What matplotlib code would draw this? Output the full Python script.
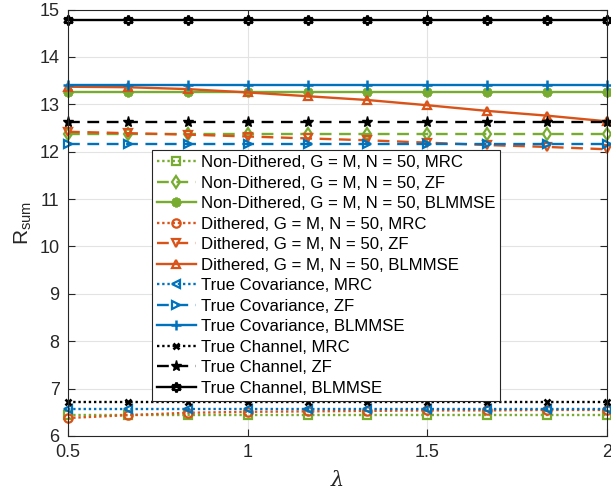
import numpy as np
import matplotlib
matplotlib.use("Agg")
import matplotlib.pyplot as plt

plt.rcParams['font.family'] = ['Liberation Sans', 'DejaVu Sans']
plt.rcParams['mathtext.fontset'] = 'custom'
plt.rcParams['mathtext.rm'] = 'Liberation Sans'
plt.rcParams['mathtext.it'] = 'Liberation Sans:italic'

lam = [0.5, 0.6667, 0.8333, 1.0, 1.1667, 1.3333, 1.5, 1.6667, 1.8333, 2.0]

nd_mrc = [6.45] * 10
nd_zf = [12.38] * 10
nd_blmmse = [13.25] * 10
d_mrc = [6.38, 6.44, 6.49, 6.51, 6.52, 6.53, 6.54, 6.54, 6.55, 6.55]
d_zf = [12.42, 12.39, 12.36, 12.32, 12.28, 12.24, 12.19, 12.14, 12.10, 12.05]
d_blmmse = [13.37, 13.36, 13.32, 13.25, 13.17, 13.09, 12.98, 12.86, 12.76, 12.64]
tc_mrc = [6.58] * 10
tc_zf = [12.16] * 10
tc_blmmse = [13.40] * 10
th_mrc = [6.72] * 10
th_zf = [12.62] * 10
th_blmmse = [14.78] * 10

labels = [
    "Non-Dithered, G = M, N = 50, MRC",
    "Non-Dithered, G = M, N = 50, ZF",
    "Non-Dithered, G = M, N = 50, BLMMSE",
    "Dithered, G = M, N = 50, MRC",
    "Dithered, G = M, N = 50, ZF",
    "Dithered, G = M, N = 50, BLMMSE",
    "True Covariance, MRC",
    "True Covariance, ZF",
    "True Covariance, BLMMSE",
    "True Channel, MRC",
    "True Channel, ZF",
    "True Channel, BLMMSE",
]
series = [nd_mrc, nd_zf, nd_blmmse, d_mrc, d_zf, d_blmmse,
          tc_mrc, tc_zf, tc_blmmse, th_mrc, th_zf, th_blmmse]

green = '#77AC30'
orange = '#D95319'
blue = '#0072BD'
black = '#000000'
colors = [green] * 3 + [orange] * 3 + [blue] * 3 + [black] * 3
markers = ['s', 'd', (8, 2, 0), 'o', 'v', '^', '<', '>', '+', 'x', '*', (6, 1, 0)]
styles = ['mrc', 'zf', 'bl'] * 4
dashes = {'mrc': (1.0, 1.2), 'zf': (5.0, 3.2), 'bl': None}

fig = plt.figure(figsize=(6.11, 4.95), dpi=100)
ax = fig.add_axes([68/611, 1-436/495, (607-68)/611, (436-9.5)/495])

for i, (y, lab, c, m, s) in enumerate(zip(series, labels, colors, markers, styles)):
    kw = dict(color=c, lw=1.7, marker=m, markersize=6, markeredgewidth=1.6,
              label=lab, clip_on=False, markerfacecolor='none')
    if i == 2:
        kw['markersize'] = 7
        kw['markeredgewidth'] = 2.0
    elif i == 10:
        kw['markersize'] = 8
        kw['markerfacecolor'] = black
        kw['markeredgewidth'] = 1.0
    elif i == 11:
        kw['markersize'] = 7
        kw['markeredgewidth'] = 1.8
    elif m == '+':
        kw['markersize'] = 7
        kw['markeredgewidth'] = 1.8
    elif m == 'x':
        kw['markersize'] = 5
        kw['markeredgewidth'] = 1.9
    line, = ax.plot(lam, y, **kw)
    if dashes[s] is None:
        line.set_linestyle('-')
    else:
        line.set_dashes(dashes[s])

ax.set_xlim(0.5, 2)
ax.set_ylim(6, 15)
ax.set_xticks([0.5, 1, 1.5, 2])
ax.set_xticklabels(['0.5', '1', '1.5', '2'])
ax.set_yticks(range(6, 16))
ax.grid(True, color='#e3e3e3', lw=0.8)
ax.set_axisbelow(True)
for sp in ax.spines.values():
    sp.set_color('#262626')
    sp.set_linewidth(0.8)
ax.tick_params(direction='in', length=5, width=0.8, color='#262626',
               labelsize=13, labelcolor='#262626', top=True, right=True, pad=6)

ax.set_xlabel('λ', fontsize=15, family='DejaVu Serif', style='italic',
              color='#262626', labelpad=7)
ax.set_ylabel('R$_{\\mathrm{sum}}$', fontsize=15, color='#262626', labelpad=4)

leg = ax.legend(loc='upper left', bbox_to_anchor=(152/611, 1-150/495),
                bbox_transform=fig.transFigure, fontsize=12.05,
                frameon=True, fancybox=False, framealpha=1, edgecolor='#262626',
                borderaxespad=0, borderpad=0.3, labelspacing=0.33,
                handlelength=2.3, handletextpad=0.3)
leg.get_frame().set_linewidth(0.8)
for t in leg.get_texts():
    t.set_color('#000000')

fig.savefig('out.png', dpi=100)
